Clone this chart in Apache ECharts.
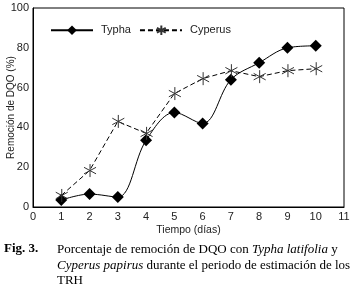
<!DOCTYPE html>
<html>
<head>
<meta charset="utf-8">
<script src="https://cdn.jsdelivr.net/npm/echarts@6/dist/echarts.min.js"></script>
<style>
  html, body { margin: 0; padding: 0; background: #ffffff; }
  #chart { width: 354px; height: 292px; }
</style>
</head>
<body>
<div id="chart"></div>
<script>
// days 1..10
var dias = [1, 2, 3, 4, 5, 6, 7, 8, 9, 10]
var typha = [3.5, 6.5, 5, 33.5, 47.5, 42, 64, 72.5, 80, 81]
var cyperus = [5.8, 18.3, 43, 37, 57, 64.5, 68.5, 65.5, 68.5, 69.5]

var asterisco = 'path://M5,0L5,10M0.7,2.5L9.3,7.5M0.7,7.5L9.3,2.5M0,5L0,5'

function pares(ys) {
  var out = []
  for (var i = 0; i < dias.length; i++) {
    out.push([dias[i], ys[i]])
  }
  return out
}

var myChart = echarts.init(document.getElementById('chart'))
var sans = 'Liberation Sans'
var serif = 'Liberation Serif'

var option = {
  backgroundColor: '#ffffff',
  animation: false,
  grid: {
    left: 33,
    right: 10,
    top: 8,
    bottom: 85,
    outerBoundsMode: 'none',
    show: true,
    borderColor: '#000000',
    borderWidth: 1
  },
  legend: {
    left: 45,
    top: 18,
    itemWidth: 42,
    itemHeight: 12,
    itemGap: 8,
    textStyle: { fontFamily: sans, fontSize: 11, color: '#222', padding: [0, 0, 0, 3] },
    data: ['Typha', 'Cyperus']
  },
  xAxis: {
    type: 'value',
    min: 0,
    max: 11,
    interval: 1,
    name: 'Tiempo (días)',
    nameLocation: 'middle',
    nameGap: 18,
    nameMoveOverlap: false,
    nameTextStyle: { fontFamily: sans, fontSize: 10.5, color: '#222' },
    axisLine: { lineStyle: { color: '#000', width: 1 } },
    axisTick: { show: false },
    splitLine: { show: false },
    axisLabel: { fontFamily: sans, fontSize: 11, color: '#222', margin: 4 }
  },
  yAxis: {
    type: 'value',
    min: 0,
    max: 100,
    interval: 20,
    name: 'Remoción de DQO (%)',
    nameLocation: 'middle',
    nameGap: 17,
    nameMoveOverlap: false,
    nameTextStyle: { fontFamily: sans, fontSize: 10, color: '#222' },
    axisLine: { show: true, lineStyle: { color: '#000', width: 1 } },
    axisTick: { show: false },
    splitLine: { show: false },
    axisLabel: { fontFamily: sans, fontSize: 11, color: '#222', margin: 4 }
  },
  series: [
    {
      name: 'Typha',
      type: 'line',
      data: pares(typha),
      smooth: 0.35,
      symbol: 'diamond',
      symbolSize: 12,
      lineStyle: { color: '#000', width: 1 },
      itemStyle: { color: '#000' }
    },
    {
      name: 'Cyperus',
      type: 'line',
      data: pares(cyperus),
      symbol: asterisco,
      symbolSize: 13,
      lineStyle: { color: '#000', width: 1, type: [5, 3] },
      itemStyle: { color: 'none', borderColor: '#333', borderWidth: 1 }
    }
  ],
  graphic: [
    {
      type: 'text',
      left: 4,
      top: 242,
      style: {
        text: '{b|Fig. 3.}',
        rich: { b: { fontFamily: serif, fontSize: 13, fontWeight: 'bold', fill: '#000' } }
      }
    },
    {
      type: 'text',
      left: 57,
      top: 242,
      style: {
        text: 'Porcentaje de remoción de DQO con {i|Typha latifolia} y\n{i|Cyperus papirus} durante el periodo de estimación de los\nTRH',
        fontFamily: serif,
        fontSize: 13,
        lineHeight: 15.5,
        fill: '#000',
        rich: {
          i: { fontFamily: serif, fontSize: 13, fontStyle: 'italic', lineHeight: 15.5, fill: '#000' }
        }
      }
    }
  ]
}

myChart.setOption(option, true)
window.addEventListener('resize', () => {
  myChart.resize()
})
</script>
</body>
</html>
